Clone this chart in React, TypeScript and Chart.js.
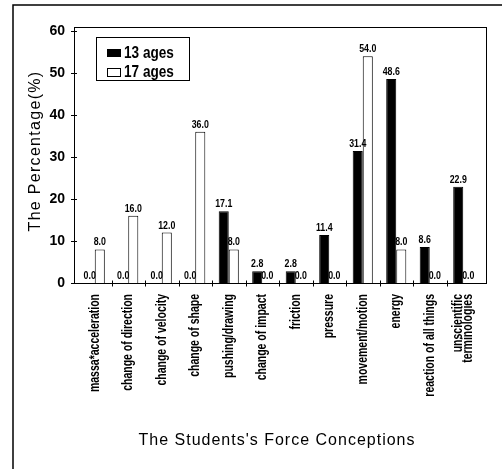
import React, { useEffect, useRef } from "react";
import { Chart, registerables } from "chart.js";

Chart.register(...registerables);

const categories: (string | string[])[] = [
  "massa*acceleration",
  "change of direction",
  "change of velocity",
  "change of shape",
  "pushing/drawing",
  "change of impact",
  "friction",
  "pressure",
  "movement/motion",
  "energy",
  "reaction of all things",
  ["unscientific", "terminologies"],
];

const ages13 = [0.0, 0.0, 0.0, 0.0, 17.1, 2.8, 2.8, 11.4, 31.4, 48.6, 8.6, 22.9];
const ages17 = [8.0, 16.0, 12.0, 36.0, 8.0, 0.0, 0.0, 0.0, 54.0, 8.0, 0.0, 0.0];

const seriesNames = ["13 ages", "17 ages"];
const yTicks = [0, 10, 20, 30, 40, 50, 60];
const yTitle = "The Percentage(%)";
const xTitle = "The Students's Force Conceptions";

const SANS = '"Liberation Sans", Arial, sans-serif';

// draw text condensed horizontally (in text direction) by factor k
function narrowText(
  ctx: CanvasRenderingContext2D,
  text: string,
  x: number,
  y: number,
  k: number,
  rot = 0
) {
  ctx.save();
  ctx.translate(x, y);
  if (rot) ctx.rotate(rot);
  ctx.scale(k, 1);
  ctx.fillText(text, 0, 0);
  ctx.restore();
}

const decorPlugin = {
  id: "decor",
  afterDraw(chart: any) {
    const ctx = chart.ctx as CanvasRenderingContext2D;
    const area = chart.chartArea;
    const xs = chart.scales.x;
    const ys = chart.scales.y;
    ctx.save();
    ctx.strokeStyle = "#000";
    ctx.fillStyle = "#000";
    // outer border
    ctx.lineWidth = 1.5;
    ctx.beginPath();
    ctx.moveTo(502, 5);
    ctx.lineTo(13, 5);
    ctx.lineTo(13, 469);
    ctx.stroke();
    // plot frame
    ctx.lineWidth = 1;
    const fl = 74.5, ft = 27.5, fr = 486.5, fb = Math.round(area.bottom) + 0.5;
    ctx.strokeRect(fl, ft, fr - fl, fb - ft);
    // y tick marks
    ctx.beginPath();
    yTicks.forEach((v) => {
      const y = Math.round(ys.getPixelForValue(v)) + 0.5;
      ctx.moveTo(71, y);
      ctx.lineTo(77, y);
    });
    // x tick marks at category boundaries
    for (let i = 1; i < categories.length; i++) {
      const x = Math.round((xs.getPixelForValue(i - 1) + xs.getPixelForValue(i)) / 2) + 0.5;
      ctx.moveTo(x, fb - 3);
      ctx.lineTo(x, fb + 3);
    }
    ctx.stroke();

    // x category labels (rotated, condensed)
    ctx.font = `bold 14px ${SANS}`;
    ctx.textAlign = "right";
    ctx.textBaseline = "middle";
    categories.forEach((lab, i) => {
      const cx = xs.getPixelForValue(i);
      const lines = Array.isArray(lab) ? lab : [lab];
      const lh = 10;
      lines.forEach((ln, j) => {
        const off = (j - (lines.length - 1) / 2) * lh;
        narrowText(ctx, ln, cx + off, 294, 0.75, -Math.PI / 2);
      });
    });

    // value labels
    ctx.font = `bold 11px ${SANS}`;
    ctx.textAlign = "center";
    ctx.textBaseline = "alphabetic";
    chart.data.datasets.forEach((ds: any, di: number) => {
      const meta = chart.getDatasetMeta(di);
      meta.data.forEach((el: any, i: number) => {
        const v = ds.data[i] as number;
        narrowText(ctx, v.toFixed(1), el.x, el.y - 4, 0.8);
      });
    });

    // legend
    ctx.lineWidth = 1;
    ctx.strokeRect(96.5, 37.5, 93, 43);
    ctx.fillRect(107, 49, 14, 8);
    ctx.strokeRect(107.5, 68.5, 13, 8);
    ctx.font = `bold 17px ${SANS}`;
    ctx.textAlign = "left";
    narrowText(ctx, seriesNames[0], 124, 58, 0.8);
    narrowText(ctx, seriesNames[1], 124, 77, 0.8);

    // axis titles
    ctx.font = `16px ${SANS}`;
    (ctx as any).letterSpacing = "1px";
    ctx.textAlign = "center";
    ctx.fillText(xTitle, 277, 445);
    ctx.save();
    ctx.translate(39.5, 151);
    ctx.rotate(-Math.PI / 2);
    (ctx as any).letterSpacing = "1.3px";
    ctx.fillText(yTitle, 0, 0);
    ctx.restore();
    ctx.restore();
  },
};

export default function App() {
  const ref = useRef<HTMLCanvasElement>(null);
  useEffect(() => {
    if (!ref.current) return;
    const chart = new Chart(ref.current, {
      type: "bar",
      data: {
        labels: categories,
        datasets: [
          {
            label: seriesNames[0],
            data: ages13,
            backgroundColor: "#000",
            borderColor: "#000",
            borderWidth: 1,
            categoryPercentage: 0.6,
            barPercentage: 1.0,
          },
          {
            label: seriesNames[1],
            data: ages17,
            backgroundColor: "#fff",
            borderColor: "#000",
            borderWidth: 1,
            categoryPercentage: 0.6,
            barPercentage: 1.0,
          },
        ],
      },
      options: {
        animation: false,
        responsive: false,
        maintainAspectRatio: false,
        layout: { padding: { top: 31, left: 0, right: 22, bottom: 0 } },
        plugins: {
          legend: { display: false },
          tooltip: { enabled: false },
          title: { display: false },
        },
        scales: {
          x: {
            grid: { display: false, drawTicks: false },
            border: { display: false },
            ticks: { display: false },
            afterFit: (s: any) => {
              s.height = 186;
            },
          },
          y: {
            min: 0,
            max: 60,
            grid: { display: false, drawTicks: false },
            border: { display: false },
            ticks: {
              stepSize: 10,
              padding: 13,
              color: "#000",
              font: { family: SANS, size: 14, weight: "bold" },
            },
            afterFit: (s: any) => {
              s.width = 78;
            },
          },
        },
      },
      plugins: [decorPlugin],
    } as any);
    return () => chart.destroy();
  }, []);
  return (
    <div style={{ position: "fixed", left: 0, top: 0, width: 502, height: 469, background: "#fff" }}>
      <canvas ref={ref} width={502} height={469} style={{ width: 502, height: 469, display: "block" }} />
    </div>
  );
}
